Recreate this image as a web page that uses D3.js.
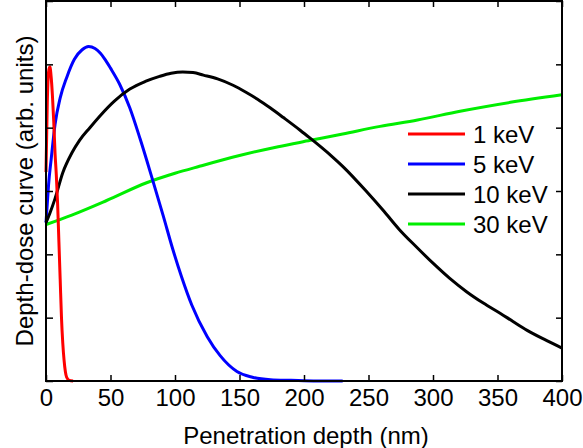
<!DOCTYPE html>
<html>
<head>
<meta charset="utf-8">
<script src="https://cdn.jsdelivr.net/npm/d3@7"></script>
<style>
  body { margin: 0; background: #fff; }
  svg text { font-family: "Liberation Sans", Arial, sans-serif; fill: #000; }
</style>
</head>
<body>
<div id="chart-area"></div>
<script>
// depth-dose curves (x in nm, y in arb. units 0..6)
var depth_1keV = [0, 1, 2, 3, 4, 5, 6, 7, 8, 9, 10, 11, 12, 13, 14, 15, 16, 18, 21];
var dose_1keV  = [3.3, 4.4, 4.88, 4.96, 4.8, 4.5, 4.1, 3.6, 3.25, 2.8, 2.2, 1.6, 1.0, 0.6, 0.33, 0.15, 0.06, 0.01, 0];

var depth_5keV = [0, 1, 2, 4, 7, 11, 16, 22, 28, 33, 38, 42, 46, 50, 57, 65, 73, 82, 91, 98, 105, 113, 125, 135, 148, 160, 174, 190, 210, 230];
var dose_5keV  = [2.5, 2.8, 3.1, 3.5, 4.05, 4.47, 4.79, 5.08, 5.23, 5.28, 5.25, 5.18, 5.07, 4.94, 4.69, 4.31, 3.82, 3.22, 2.6, 2.1, 1.65, 1.2, 0.7, 0.4, 0.15, 0.06, 0.02, 0.01, 0, 0];

var depth_10keV = [0, 3, 7, 13, 20, 26, 34, 42, 53, 65, 77, 88, 97, 106, 114, 122, 133, 145, 155, 164, 174, 184, 197, 205, 214, 222, 230, 249, 262, 274, 287, 300, 313, 326, 339, 352, 362, 373, 386, 400];
var dose_10keV  = [2.5, 2.65, 2.88, 3.29, 3.6, 3.8, 4.0, 4.19, 4.42, 4.61, 4.73, 4.81, 4.86, 4.88, 4.87, 4.83, 4.77, 4.67, 4.56, 4.45, 4.31, 4.16, 3.96, 3.83, 3.68, 3.54, 3.39, 2.98, 2.68, 2.39, 2.12, 1.86, 1.62, 1.41, 1.23, 1.07, 0.94, 0.8, 0.66, 0.52];

var depth_30keV = [0, 20, 47, 78, 100, 119, 150, 180, 205, 230, 259, 288, 321, 360, 400];
var dose_30keV  = [2.47, 2.62, 2.85, 3.13, 3.28, 3.39, 3.56, 3.7, 3.8, 3.9, 4.02, 4.12, 4.26, 4.4, 4.52];

var series_names  = ["1 keV", "5 keV", "10 keV", "30 keV"];
var series_colors = ["#ff0000", "#0000ff", "#000000", "#00ee00"];
var x_ticks = [0, 50, 100, 150, 200, 250, 300, 350, 400];
var y_ticks = [0, 1, 2, 3, 4, 5, 6];

var width = 583, height = 448;
// note: "top" is a reserved window property, so plot edges get their own names
var plot_left = 46, plot_right = 562, plot_top = 1, plot_bottom = 381;
var font_px = "24px";

var svg = d3.select("#chart-area").append("svg")
	.attr("width", width)
	.attr("height", height);

var x = d3.scaleLinear().domain([0, 400]).range([plot_left, plot_right]);
var y = d3.scaleLinear().domain([0, 6]).range([plot_bottom, plot_top]);

function pairs(xs, ys) {
	return xs.map(function(d, i) { return [d, ys[i]]; });
}

var series = [
	pairs(depth_1keV, dose_1keV),
	pairs(depth_5keV, dose_5keV),
	pairs(depth_10keV, dose_10keV),
	pairs(depth_30keV, dose_30keV)
];

var line = d3.line()
	.x(function(d) { return x(d[0]); })
	.y(function(d) { return y(d[1]); })
	.curve(d3.curveMonotoneX);

// draw order: green under the rest, red on top
[3, 1, 2, 0].forEach(function(i) {
	svg.append("path")
		.attr("d", line(series[i]))
		.attr("fill", "none")
		.attr("stroke", series_colors[i])
		.attr("stroke-width", 3)
		.attr("stroke-linejoin", "round");
});

// axes, ticks pointing inwards on all four sides
var gB = svg.append("g").attr("transform", "translate(0," + plot_bottom + ")")
	.call(d3.axisBottom(x).tickValues(x_ticks).tickSizeInner(-6).tickSizeOuter(0));
var gT = svg.append("g").attr("transform", "translate(0," + plot_top + ")")
	.call(d3.axisTop(x).tickValues(x_ticks).tickSizeInner(-6).tickSizeOuter(0).tickFormat(""));
var gL = svg.append("g").attr("transform", "translate(" + plot_left + ",0)")
	.call(d3.axisLeft(y).tickValues(y_ticks).tickSizeInner(-7).tickSizeOuter(0).tickFormat(""));
var gR = svg.append("g").attr("transform", "translate(" + plot_right + ",0)")
	.call(d3.axisRight(y).tickValues(y_ticks).tickSizeInner(-6).tickSizeOuter(0).tickFormat(""));

[gB, gT, gL, gR].forEach(function(g) {
	g.select(".domain").remove();
	g.selectAll(".tick line").attr("stroke", "#000").attr("stroke-width", 1.5);
});

gB.selectAll(".tick text")
	.attr("y", 25)
	.attr("dy", null)
	.attr("font-size", null)
	.attr("font-family", null)
	.style("font-size", font_px)
	.attr("fill", "#000");

svg.append("rect")
	.attr("x", plot_left)
	.attr("y", plot_top)
	.attr("width", plot_right - plot_left)
	.attr("height", plot_bottom - plot_top)
	.attr("fill", "none")
	.attr("stroke", "#000")
	.attr("stroke-width", 2);

// axis titles
svg.append("text")
	.attr("x", 306)
	.attr("y", 444)
	.attr("text-anchor", "middle")
	.style("font-size", font_px)
	.text("Penetration depth (nm)");

svg.append("text")
	.attr("transform", "translate(33," + ((plot_top + plot_bottom) / 2) + ") rotate(-90)")
	.attr("text-anchor", "middle")
	.style("font-size", font_px)
	.text("Depth-dose curve (arb. units)");

// legend
var legend = svg.append("g");
series_names.forEach(function(name, i) {
	var ly = 134 + i * 30;
	legend.append("line")
		.attr("x1", 408).attr("x2", 465)
		.attr("y1", ly).attr("y2", ly)
		.attr("stroke", series_colors[i])
		.attr("stroke-width", 3);
	legend.append("text")
		.attr("x", 473)
		.attr("y", ly + 9)
		.style("font-size", font_px)
		.text(name);
});
</script>
</body>
</html>
